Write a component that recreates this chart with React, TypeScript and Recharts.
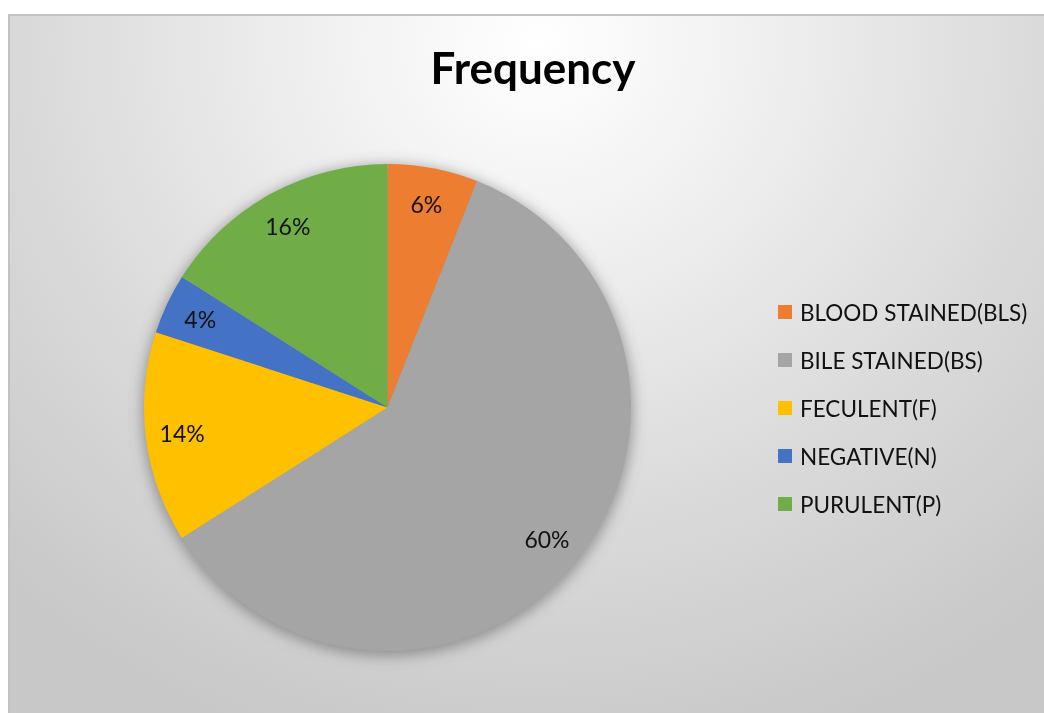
import React from "react";
import { PieChart, Pie, Cell, Legend } from "recharts";

// Fluid categories and their share (%)
const categories = [
  "BLOOD STAINED(BLS)",
  "BILE STAINED(BS)",
  "FECULENT(F)",
  "NEGATIVE(N)",
  "PURULENT(P)",
];
const shares = [6, 60, 14, 4, 16];
const colors = ["#ED7D31", "#A5A5A5", "#FFC000", "#4472C4", "#70AD47"];

const data = categories.map((name, i) => ({ name, value: shares[i] }));
const shadowData = [{ name: "shadow", value: 1 }];

const W = 1036;
const H = 699;
const CX = 374.5;
const CY = 388.5;
const R = 243.5;
const FONT = "Lato, 'Open Sans', sans-serif";

const RADIAN = Math.PI / 180;

const renderLabel = (props: any) => {
  const { cx, cy, midAngle, outerRadius, value } = props;
  const r = outerRadius * 0.85;
  const x = cx + r * Math.cos(-midAngle * RADIAN);
  const y = cy + r * Math.sin(-midAngle * RADIAN);
  return (
    <text
      x={x}
      y={y}
      fill="#111"
      textAnchor="middle"
      dominantBaseline="central"
      fontFamily={FONT}
      fontSize={23}
    >
      {`${value}%`}
    </text>
  );
};

const LegendContent = (props: any) => {
  const items = (props.payload || [])
    .filter((p: any) => p.type !== "none" && categories.includes(p.value))
    .sort(
      (a: any, b: any) =>
        categories.indexOf(a.value) - categories.indexOf(b.value)
    );
  return (
    <div style={{ fontFamily: FONT }}>
      {items.map((p: any, i: number) => (
        <div
          key={i}
          style={{ display: "flex", alignItems: "center", height: 48 }}
        >
          <span
            style={{
              display: "inline-block",
              width: 14,
              height: 14,
              background: p.color,
              marginRight: 8,
            }}
          />
          <span style={{ fontSize: 22.5, color: "#111", whiteSpace: "nowrap" }}>
            {p.value}
          </span>
        </div>
      ))}
    </div>
  );
};

export default function App() {
  return (
    <div
      style={{
        position: "fixed",
        left: 8,
        top: 14,
        width: W,
        height: H,
        boxSizing: "border-box",
        borderLeft: "2px solid #c2c2c2",
        borderTop: "2px solid #c2c2c2",
        background:
          "radial-gradient(ellipse 75% 105% at 51% 4%, #ffffff 0%, #efefef 30%, #dadada 65%, #c8c8c8 100%)",
        overflow: "hidden",
      }}
    >
      <div
        style={{
          position: "absolute",
          left: 0,
          width: W,
          top: 25,
          textAlign: "center",
          fontFamily: FONT,
          fontWeight: 700,
          fontSize: 44,
          color: "#000",
          paddingLeft: 10,
          boxSizing: "border-box",
        }}
      >
        Frequency
      </div>
      <div style={{ position: "absolute", left: -2, top: -2 }}>
        <PieChart width={W} height={H}>
          <defs>
            <filter id="pieShadow" x="-20%" y="-20%" width="140%" height="140%">
              <feGaussianBlur stdDeviation="7" />
            </filter>
          </defs>
          <Pie
            data={shadowData}
            dataKey="value"
            cx={CX}
            cy={CY + 3}
            outerRadius={R + 2}
            startAngle={90}
            endAngle={-270}
            stroke="none"
            fill="rgba(90,90,90,0.55)"
            legendType="none"
            isAnimationActive={false}
            style={{ filter: "url(#pieShadow)" }}
          >
            <Cell fill="rgba(90,90,90,0.55)" style={{ filter: "url(#pieShadow)" }} />
          </Pie>
          <Pie
            data={data}
            dataKey="value"
            nameKey="name"
            cx={CX}
            cy={CY}
            outerRadius={R}
            startAngle={90}
            endAngle={-270}
            stroke="none"
            label={renderLabel}
            labelLine={false}
            isAnimationActive={false}
          >
            {data.map((d, i) => (
              <Cell key={d.name} fill={colors[i]} />
            ))}
          </Pie>
          <Legend
            layout="vertical"
            content={<LegendContent />}
            wrapperStyle={{ left: 770, top: 274, width: 270 }}
          />
        </PieChart>
      </div>
    </div>
  );
}
